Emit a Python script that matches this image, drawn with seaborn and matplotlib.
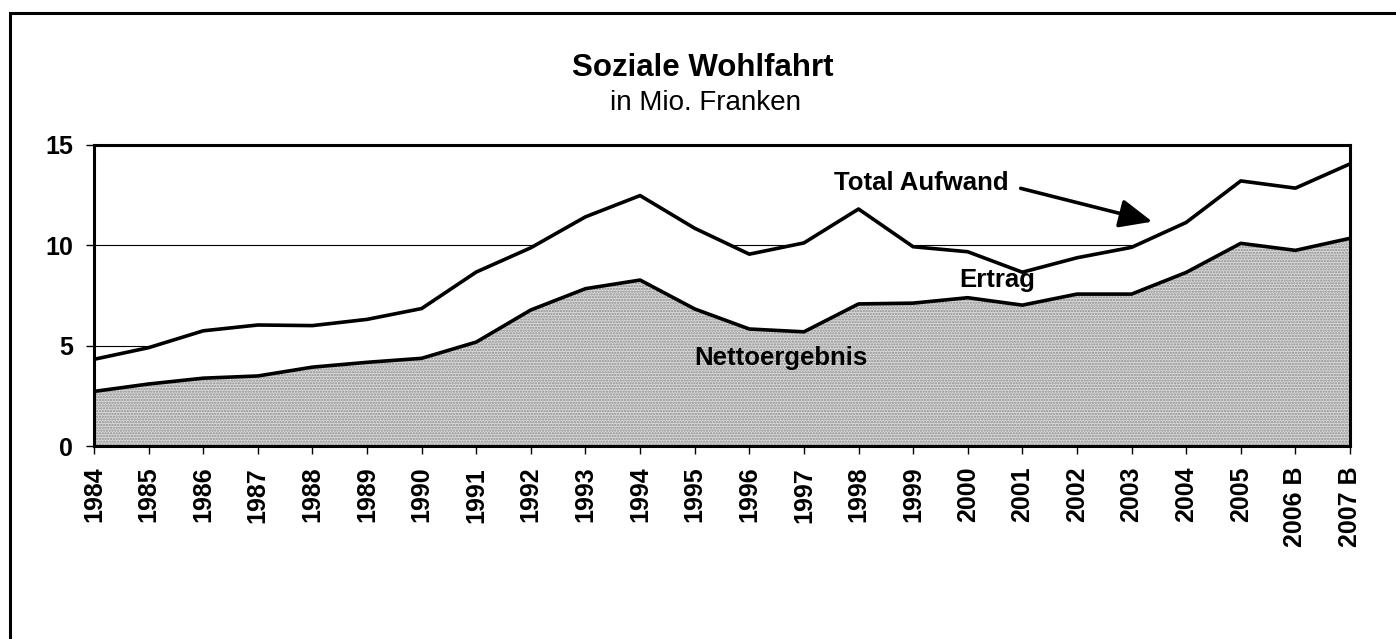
import numpy as np
import pandas as pd
import seaborn as sns
import matplotlib.pyplot as plt
from matplotlib.patches import Rectangle

years = ['1984', '1985', '1986', '1987', '1988', '1989', '1990', '1991', '1992',
         '1993', '1994', '1995', '1996', '1997', '1998', '1999', '2000', '2001',
         '2002', '2003', '2004', '2005', '2006 B', '2007 B']
total_aufwand = [4.32, 4.90, 5.74, 6.03, 6.00, 6.31, 6.85, 8.67, 9.88,
                 11.42, 12.48, 10.85, 9.56, 10.12, 11.81, 9.93, 9.68, 8.66,
                 9.38, 9.90, 11.14, 13.21, 12.85, 14.06]
nettoergebnis = [2.72, 3.09, 3.38, 3.49, 3.93, 4.17, 4.37, 5.18, 6.78,
                 7.84, 8.27, 6.83, 5.83, 5.69, 7.08, 7.12, 7.39, 7.02,
                 7.57, 7.57, 8.65, 10.10, 9.75, 10.35]
y_ticks = [0, 5, 10, 15]

df = pd.DataFrame({'pos': np.arange(len(years)), 'jahr': years,
                   'total': total_aufwand, 'netto': nettoergebnis})

sns.set_style('white', {'text.color': 'black', 'xtick.color': 'black',
                        'ytick.color': 'black', 'axes.labelcolor': 'black'})
plt.rcParams['font.family'] = ['Liberation Sans', 'DejaVu Sans']
plt.rcParams['hatch.linewidth'] = 1.1

W, H = 1396, 639
fig = plt.figure(figsize=(W / 100, H / 100), dpi=100)
ax = fig.add_axes([94 / W, 1 - 446 / H, (1350 - 94) / W, (446 - 145) / H])

# areas: netto (dotted) and ertrag (white) stacked to total
ax.fill_between(df.pos, 0, df.netto, facecolor='#dadada', hatch='......',
                edgecolor='#8c8c8c', linewidth=0, zorder=1)
ax.fill_between(df.pos, df.netto, df.total, facecolor='white', zorder=1)

for h in [5, 10]:
    ax.axhline(h, color='black', lw=0.8, zorder=0.5)

sns.lineplot(data=df, x='pos', y='netto', color='black', lw=2.6, ax=ax, zorder=3)
sns.lineplot(data=df, x='pos', y='total', color='black', lw=2.6, ax=ax, zorder=3)

ax.set_xlim(0, len(years) - 1)
ax.set_ylim(0, 15)
ax.set_yticks(y_ticks)
ax.set_yticklabels([str(t) for t in y_ticks], fontsize=18, fontweight='bold')
ax.set_xticks(df.pos)
ax.set_xticklabels(years, rotation=90, fontsize=18, fontweight='bold')
ax.set_xlabel('')
ax.set_ylabel('')
ax.tick_params(axis='both', direction='out', length=6, width=1, color='black',
               left=True, bottom=True, pad=9)
for s in ax.spines.values():
    s.set_visible(True)
    s.set_color('black')
    s.set_linewidth(2.2)

fig.text(781 / W, 1 - 358 / H, 'Nettoergebnis', fontsize=18.5, fontweight='bold',
         ha='center', va='center')
fig.text(997 / W, 1 - 280 / H, 'Ertrag', fontsize=18.5, fontweight='bold',
         ha='center', va='center')
fig.text(921 / W, 1 - 183 / H, 'Total Aufwand', fontsize=18.5, fontweight='bold',
         ha='center', va='center')
ax.annotate('', xy=(19.38, 11.18), xytext=(16.97, 12.84),
            arrowprops=dict(arrowstyle='-|>,head_length=0.8,head_width=0.35',
                            color='black', lw=2.6, mutation_scale=25,
                            shrinkA=0, shrinkB=0))

fig.text(703 / W, 1 - 68 / H, 'Soziale Wohlfahrt', ha='center', va='center',
         fontsize=22.5, fontweight='bold')
fig.text(705 / W, 1 - 103 / H, 'in Mio. Franken', ha='center', va='center',
         fontsize=20)

fig.patches.append(Rectangle((10 / W, -0.05), 1.2, 1 - 13 / H + 0.05,
                             transform=fig.transFigure, fill=False,
                             edgecolor='black', linewidth=2.2))

fig.savefig('out.png', dpi=100)
